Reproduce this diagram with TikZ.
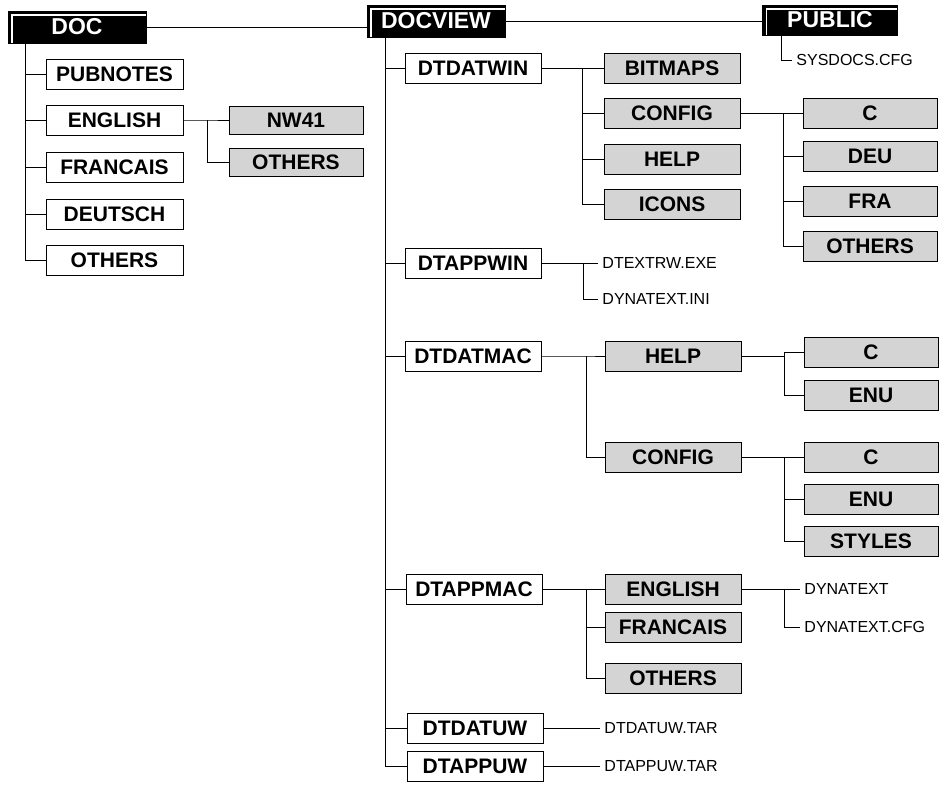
\documentclass[tikz,border=0pt]{standalone}
\usepackage{fontspec}
\setmainfont{Liberation Sans}
\usetikzlibrary{shadows}

\tikzset{
  dirbox/.style={draw, fill=white, line width=0.8pt, minimum width=136pt, minimum height=30pt, inner sep=0pt,
    font=\fontsize{21}{21}\selectfont\bfseries,
    drop shadow={shadow xshift=1.4pt, shadow yshift=-1.4pt, fill=black, opacity=1}},
  subbox/.style={dirbox, fill=black!17},
  rootbox/.style={draw, fill=black, text=white, line width=0.6pt, minimum width=138pt, minimum height=32pt, inner sep=0pt,
    font=\fontsize{23}{23}\selectfont\bfseries,
    path picture={\draw[white, line width=1.3pt] ([xshift=4pt]path picture bounding box.south west)
      |- ([yshift=-4pt]path picture bounding box.north east);}},
  fname/.style={anchor=west, inner xsep=4pt, inner ysep=0pt, font=\fontsize{16}{16}\selectfont},
}

\begin{document}
\begin{tikzpicture}[x=1pt, y=-1pt, line width=0.9pt]
  \useasboundingbox (0,0) rectangle (939,790);

  \node[rootbox] (doc) at (77,27) {DOC};
  \node[rootbox] (docview) at (436,21) {DOCVIEW};
  \node[rootbox, minimum width=135pt, minimum height=30pt] (public) at (830,20) {PUBLIC};
  \draw (doc.east) -- (doc.east -| docview.west);
  \draw (docview.east) -- (docview.east -| public.west);

  % DOC
  \node[dirbox, minimum width=137pt] (pubnotes) at (114.5,74) {PUBNOTES};
  \node[dirbox, minimum width=137pt] (english) at (114.5,120) {ENGLISH};
  \node[dirbox, minimum width=137pt] (francais) at (114.5,167) {FRANCAIS};
  \node[dirbox, minimum width=137pt] (deutsch) at (114.5,214) {DEUTSCH};
  \node[dirbox, minimum width=137pt] (docothers) at (114.5,260) {OTHERS};
  \node[subbox, minimum width=134pt, minimum height=28pt] (nw41) at (296,120) {NW41};
  \node[subbox, minimum width=134pt, minimum height=28pt] (engothers) at (296,162) {OTHERS};

  \coordinate (doctrunk) at (25,43);
  \foreach \n in {pubnotes,english,francais,deutsch,docothers}
    \draw (doctrunk) |- (\n.west);
  \coordinate (engfork) at (207,120);
  \draw (english.east) -- (engfork) |- (nw41.west);
  \draw (engfork) |- (engothers.west);

  % PUBLIC
  \node[fname] (sysdocs) at (792,60) {SYSDOCS.CFG};
  \coordinate (pubdrop) at (781,35);
  \draw (pubdrop) |- (sysdocs.west);

  % DOCVIEW
  \node[dirbox] (dtdatwin) at (473,68) {DTDATWIN};
  \node[dirbox] (dtappwin) at (473,263) {DTAPPWIN};
  \node[dirbox] (dtdatmac) at (473,356) {DTDATMAC};
  \node[dirbox] (dtappmac) at (474,589) {DTAPPMAC};
  \node[dirbox] (dtdatuw) at (475,728) {DTDATUW};
  \node[dirbox] (dtappuw) at (475,766) {DTAPPUW};

  \coordinate (dvtrunk) at (385,37);
  \foreach \n in {dtdatwin,dtappwin,dtdatmac,dtappmac,dtdatuw,dtappuw}
    \draw (dvtrunk) |- (\n.west);

  % DTDATWIN
  \node[subbox] (bitmaps) at (672,68) {BITMAPS};
  \node[subbox] (winconfig) at (672,113) {CONFIG};
  \node[subbox] (winhelp) at (672,159) {HELP};
  \node[subbox] (icons) at (672,204) {ICONS};
  \node[subbox, minimum width=134pt] (winc) at (870,113) {C};
  \node[subbox, minimum width=134pt] (deu) at (870,156) {DEU};
  \node[subbox, minimum width=134pt] (fra) at (870,201) {FRA};
  \node[subbox, minimum width=134pt] (winothers) at (870,246) {OTHERS};

  \coordinate (winfork) at (582,68);
  \draw (dtdatwin.east) -- (winfork);
  \foreach \n in {bitmaps,winconfig,winhelp,icons}
    \draw (winfork) |- (\n.west);
  \coordinate (cfgfork) at (783,113);
  \draw (winconfig.east) -- (cfgfork);
  \foreach \n in {winc,deu,fra,winothers}
    \draw (cfgfork) |- (\n.west);

  % DTAPPWIN
  \node[fname] (dtextrw) at (598,263) {DTEXTRW.EXE};
  \node[fname] (dynaini) at (598,299) {DYNATEXT.INI};
  \coordinate (appwinfork) at (583,263);
  \draw (dtappwin.east) -- (dtextrw.west);
  \draw (appwinfork) |- (dynaini.west);

  % DTDATMAC
  \node[subbox] (machelp) at (673,356) {HELP};
  \node[subbox] (macconfig) at (673,457) {CONFIG};
  \node[subbox, minimum width=134pt] (helpc) at (871,352) {C};
  \node[subbox, minimum width=134pt] (helpenu) at (871,395) {ENU};
  \node[subbox, minimum width=134pt] (cfgc) at (871,457) {C};
  \node[subbox, minimum width=134pt] (cfgenu) at (871,499) {ENU};
  \node[subbox, minimum width=134pt] (styles) at (871,541) {STYLES};

  \coordinate (macfork) at (586,356);
  \draw (dtdatmac.east) -- (macfork) |- (machelp.west);
  \draw (macfork) |- (macconfig.west);
  \coordinate (helpfork) at (784,356);
  \draw (machelp.east) -- (helpfork);
  \foreach \n in {helpc,helpenu}
    \draw (helpfork) |- (\n.west);
  \coordinate (mcfgfork) at (784,457);
  \draw (macconfig.east) -- (mcfgfork);
  \foreach \n in {cfgc,cfgenu,styles}
    \draw (mcfgfork) |- (\n.west);

  % DTAPPMAC
  \node[subbox] (macenglish) at (673,589) {ENGLISH};
  \node[subbox] (macfrancais) at (673,627) {FRANCAIS};
  \node[subbox] (macothers) at (673,678) {OTHERS};
  \node[fname] (dynatext) at (800,589) {DYNATEXT};
  \node[fname] (dynacfg) at (800,627) {DYNATEXT.CFG};

  \coordinate (appmacfork) at (586,589);
  \draw (dtappmac.east) -- (appmacfork);
  \foreach \n in {macenglish,macfrancais,macothers}
    \draw (appmacfork) |- (\n.west);
  \coordinate (dynafork) at (784,589);
  \draw (macenglish.east) -- (dynatext.west);
  \draw (dynafork) |- (dynacfg.west);

  % DTDATUW, DTAPPUW
  \node[fname] (dtdatuwtar) at (600,728) {DTDATUW.TAR};
  \node[fname] (dtappuwtar) at (600,766) {DTAPPUW.TAR};
  \draw (dtdatuw.east) -- (dtdatuwtar.west);
  \draw (dtappuw.east) -- (dtappuwtar.west);
\end{tikzpicture}
\end{document}
